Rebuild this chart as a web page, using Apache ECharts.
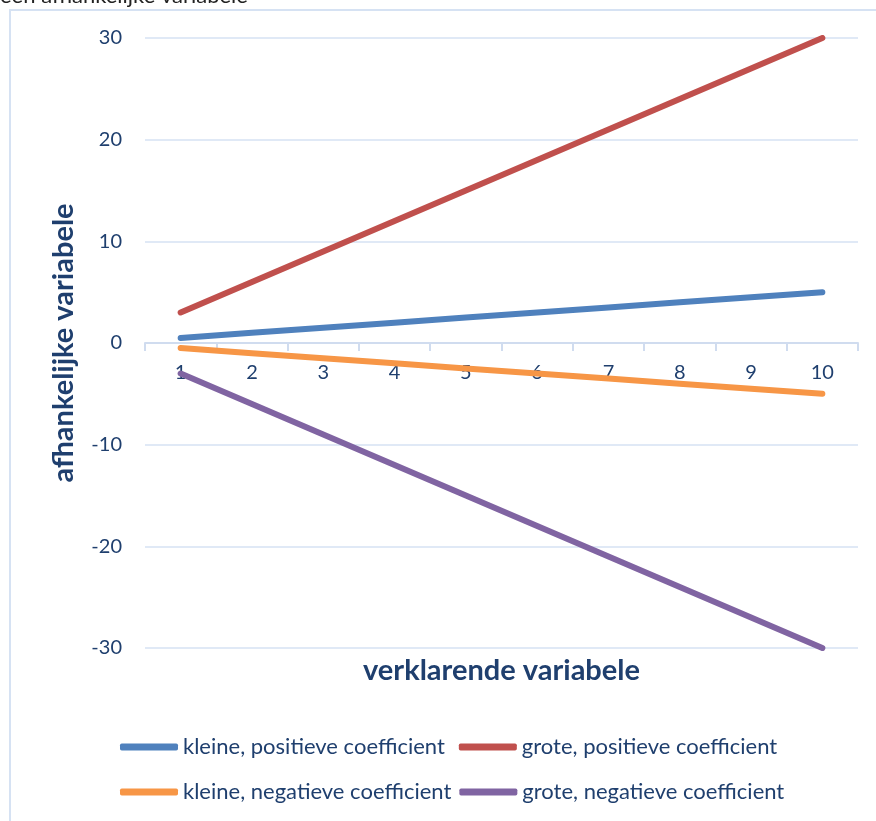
<!DOCTYPE html>
<html><head><meta charset="utf-8">
<script src="https://cdn.jsdelivr.net/npm/echarts@6/dist/echarts.min.js"></script>
<style>html,body{margin:0;padding:0;background:#fff}#c{width:876px;height:821px}</style>
</head><body><div id="c"></div>
<script>
const categories = ['1','2','3','4','5','6','7','8','9','10'];
const kleinePositief = [0.5,1,1.5,2,2.5,3,3.5,4,4.5,5];
const grotePositief = [3,6,9,12,15,18,21,24,27,30];
const kleineNegatief = [-0.5,-1,-1.5,-2,-2.5,-3,-3.5,-4,-4.5,-5];
const groteNegatief = [-3,-6,-9,-12,-15,-18,-21,-24,-27,-30];
const seriesNames = ['kleine, positieve coefficient','grote, positieve coefficient','kleine, negatieve coefficient','grote, negatieve coefficient'];
const colors = ['#4F81BD','#C0504D','#F79646','#8064A2'];
const textColor = '#1F3F6E';
const font = 'Lato, "Open Sans", sans-serif';
const chart = echarts.init(document.getElementById('c'));
const mk = (name, data, color) => ({
  name, type: 'line', data, symbol: 'none', smooth: false,
  lineStyle: {width: 6, color, cap: 'round'}, itemStyle: {color}
});
const legendBase = {
  left: 115, itemWidth: 58, itemHeight: 7, icon: 'roundRect',
  textStyle: {fontFamily: font, fontSize: 22, color: textColor}
};
chart.setOption({
  animation: false,
  color: colors,
  graphic: [
    {type: 'rect', shape: {x: 10, y: 10, width: 900, height: 900}, style: {fill: 'none', stroke: '#D6E2F3', lineWidth: 2}},
    {type: 'text', left: 0, top: -15, style: {text: 'een afhankelijke variabele', fontFamily: font, fontSize: 22, fill: '#222'}}
  ],
  grid: {left: 145, right: 18, top: 38, bottom: 173, outerBoundsMode: 'none', containLabel: false},
  legend: [
    Object.assign({}, legendBase, {top: 731, itemGap: 14, data: [seriesNames[0], seriesNames[1]]}),
    Object.assign({}, legendBase, {top: 776, itemGap: 8, data: [seriesNames[2], seriesNames[3]]})
  ],
  xAxis: {
    type: 'category', data: categories, boundaryGap: true, position: 'bottom', offset: -305,
    axisLine: {onZero: false, lineStyle: {color: '#D0DCEF', width: 2}},
    axisTick: {show: true, length: 8, lineStyle: {color: '#D0DCEF', width: 2}},
    axisLabel: {fontFamily: font, fontSize: 20, color: textColor, margin: 20},
    name: 'verklarende variabele', nameLocation: 'middle', nameGap: 313,
    nameTextStyle: {fontFamily: font, fontSize: 29, fontWeight: 'bold', color: textColor}
  },
  yAxis: {
    type: 'value', min: -30, max: 30, interval: 10,
    axisLine: {show: false}, axisTick: {show: false},
    splitLine: {lineStyle: {color: '#D6E2F3', width: 1.5}},
    axisLabel: {fontFamily: font, fontSize: 20, color: textColor, margin: 23},
    name: 'afhankelijke variabele', nameLocation: 'middle', nameGap: 67,
    nameTextStyle: {fontFamily: font, fontSize: 29, fontWeight: 'bold', color: textColor}
  },
  series: [
    mk(seriesNames[0], kleinePositief, colors[0]),
    mk(seriesNames[1], grotePositief, colors[1]),
    mk(seriesNames[2], kleineNegatief, colors[2]),
    mk(seriesNames[3], groteNegatief, colors[3])
  ]
});
</script></body></html>
